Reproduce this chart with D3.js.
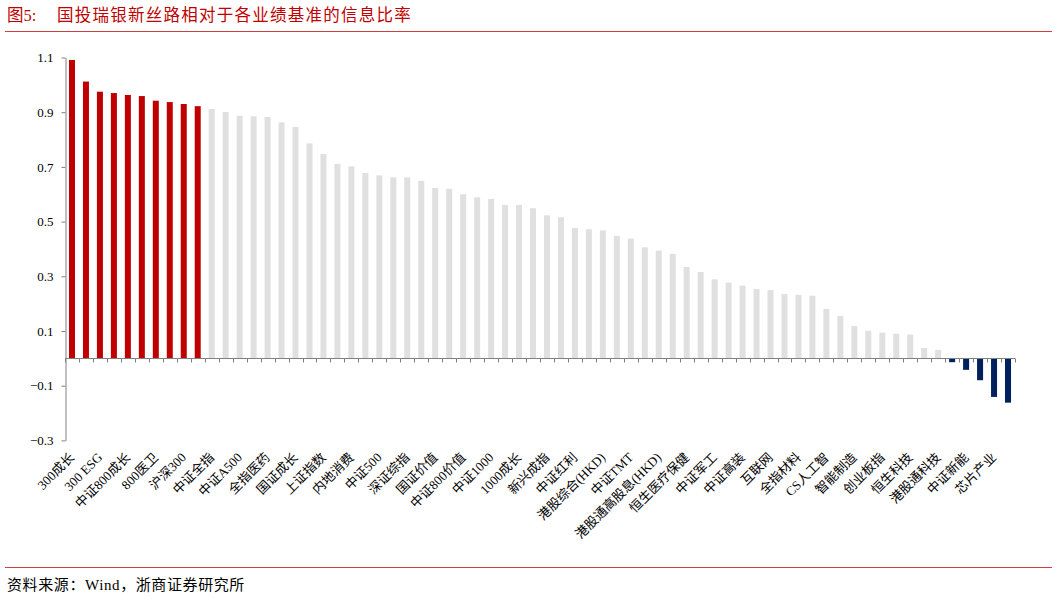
<!DOCTYPE html>
<html><head><meta charset="utf-8">
<script src="https://cdn.jsdelivr.net/npm/d3@7"></script>
<style>
body{margin:0;background:#fff;}
svg{display:block;}
</style></head>
<body>
<svg id="chart" width="1057" height="599"></svg>
<script>
const titleNo = "图5:";
const title = "国投瑞银新丝路相对于各业绩基准的信息比率";
const source = "资料来源：Wind，浙商证券研究所";
// 68 benchmarks; only every other one is labelled in the original
const labels = ["300成长","","300 ESG","","中证800成长","","800医卫","","沪深300","",
  "中证全指","","中证A500","","全指医药","","国证成长","","上证指数","",
  "内地消费","","中证500","","深证综指","","国证价值","","中证800价值","",
  "中证1000","","1000成长","","新兴成指","","中证红利","","港股综合(HKD)","",
  "中证TMT","","港股通高股息(HKD)","","恒生医疗保健","","中证军工","","中证高装","",
  "互联网","","全指材料","","CS人工智","","智能制造","","创业板指","",
  "恒生科技","","港股通科技","","中证新能","","芯片产业",""];
const values = [1.091,1.012,0.975,0.970,0.963,0.959,0.942,0.937,0.930,0.922,
  0.912,0.901,0.887,0.885,0.883,0.863,0.846,0.786,0.747,0.711,
  0.702,0.678,0.669,0.662,0.662,0.649,0.623,0.620,0.600,0.589,
  0.583,0.561,0.561,0.549,0.523,0.516,0.477,0.472,0.468,0.448,
  0.438,0.406,0.394,0.382,0.334,0.316,0.289,0.277,0.266,0.254,
  0.250,0.235,0.232,0.229,0.181,0.155,0.118,0.101,0.094,0.090,
  0.087,0.038,0.031,-0.014,-0.042,-0.080,-0.141,-0.162];
const yTicks = [-0.3,-0.1,0.1,0.3,0.5,0.7,0.9,1.1];
const groups = values.map((v,i)=> i<10 ? "top" : (v<0 ? "neg" : "mid"));
const colors = {top:"#C00000", mid:"#E0E0E0", neg:"#002060"};

const svg = d3.select("#chart");
const serif = "'Liberation Serif','Noto Sans CJK SC',serif";

// header
svg.append("text").attr("x",7).attr("y",21).attr("fill","#C00000")
  .attr("font-family",serif).attr("font-size",16.5).text(titleNo);
svg.append("text").attr("x",57).attr("y",21).attr("fill","#C00000")
  .attr("font-family",serif).attr("font-size",16.5).attr("letter-spacing",1.25).text(title);
svg.append("line").attr("x1",5).attr("x2",1052).attr("y1",31.5).attr("y2",31.5)
  .attr("stroke","#D04040").attr("stroke-width",1);
svg.append("line").attr("x1",5).attr("x2",1052).attr("y1",567.5).attr("y2",567.5)
  .attr("stroke","#D04040").attr("stroke-width",1);
svg.append("text").attr("x",7).attr("y",590).attr("fill","#000")
  .attr("font-family",serif).attr("font-size",15).attr("letter-spacing",0.6).text(source);

const x = d3.scaleBand().domain(d3.range(values.length)).range([65,1015]).paddingInner(0.57).paddingOuter(0.285);
const y = d3.scaleLinear().domain([-0.3,1.1]).range([440.4,57.5]);

// bars
svg.append("g").selectAll("rect").data(values).join("rect")
  .attr("x",(d,i)=>x(i)).attr("width",x.bandwidth())
  .attr("y",d=>y(Math.max(0,d))).attr("height",d=>Math.abs(y(d)-y(0)))
  .attr("fill",(d,i)=>colors[groups[i]]);

// y axis
const yAxis = d3.axisLeft(y).tickValues(yTicks).tickSize(4).tickSizeOuter(0)
  .tickFormat(d=>d3.format(".1f")(d));
const gy = svg.append("g").attr("transform","translate(65.5,0)").call(yAxis);
gy.select(".domain").attr("stroke","#808080");
gy.selectAll(".tick line").attr("stroke","#808080");
gy.selectAll(".tick text").attr("font-family",serif).attr("font-size",13).attr("fill","#000").attr("x",-12);

// x axis at zero with ticks at band boundaries
const bounds = d3.range(values.length+1).map(i=>65 + i*x.step());
const gx = svg.append("g");
gx.append("line").attr("x1",65).attr("x2",1015).attr("y1",Math.round(y(0))+0.5).attr("y2",Math.round(y(0))+0.5)
  .attr("stroke","#808080");
gx.selectAll("line.t").data(bounds).join("line").attr("class","t")
  .attr("x1",d=>Math.round(d)+0.5).attr("x2",d=>Math.round(d)+0.5)
  .attr("y1",Math.round(y(0))+0.5).attr("y2",Math.round(y(0))+4.5).attr("stroke","#808080");

// category labels at bottom
svg.append("g").selectAll("text").data(labels.map((d,i)=>({d,i})).filter(o=>o.d!=="")).join("text")
  .attr("transform",o=>`translate(${x(o.i)+x.bandwidth()/2},${455}) rotate(-45)`)
  .attr("text-anchor","end").attr("dy","0.35em")
  .attr("font-family",serif).attr("font-size",13).attr("fill","#000")
  .text(o=>o.d);
</script>
</body></html>
